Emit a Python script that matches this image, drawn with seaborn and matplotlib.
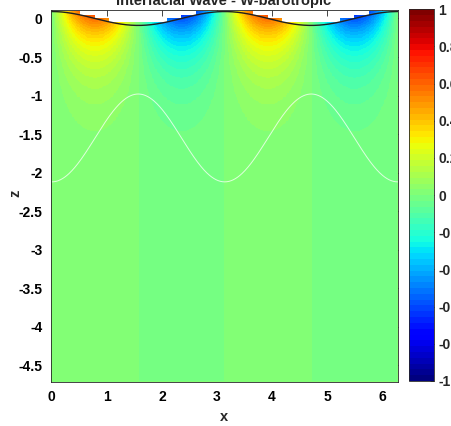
import numpy as np
import pandas as pd
import matplotlib
matplotlib.use("Agg")
import matplotlib.pyplot as plt
import seaborn as sns

# Wave parameters (two-layer interfacial wave, barotropic vertical velocity)
wavenumber = 2.0
depth = 3 * np.pi / 2
surface_amp = [0.09]
interface_mean = [-1.55]
interface_amp = [0.57]
w_amp = [0.58]

x_ticks = [0, 1, 2, 3, 4, 5, 6]
z_ticks = [0, -0.5, -1, -1.5, -2, -2.5, -3, -3.5, -4, -4.5]
z_labels = ["0", "-0.5", "-1", "-1.5", "-2", "-2.5", "-3", "-3.5", "-4", "-4.5"]
cbar_ticks = [1, 0.8, 0.6, 0.4, 0.2, 0, -0.2, -0.4, -0.6, -0.8, -1]
cbar_labels = ["1", "0.8", "0.6", "0.4", "0.2", "0", "-0.2", "-0.4", "-0.6", "-0.8", "-1"]

sns.set_style("white")
plt.rcParams["font.family"] = ["Liberation Sans", "DejaVu Sans"]
plt.rcParams["font.weight"] = "bold"

W, H = 451, 426
fig = plt.figure(figsize=(W / 100, H / 100), dpi=100)
ax = fig.add_axes([50.7 / W, 1 - 381.5 / H, 347 / W, 371.5 / H])

# model grid
x = np.linspace(0, 2 * np.pi, 481)
z = np.linspace(-depth, 0.12, 481)
X, Z = np.meshgrid(x, z)

eta = lambda xx: surface_amp[0] * np.cos(wavenumber * xx)
interface = lambda xx: interface_mean[0] - interface_amp[0] * np.cos(wavenumber * xx)

w = (w_amp[0] * np.sin(wavenumber * X)
     * np.sinh(wavenumber * (Z + depth)) / np.sinh(wavenumber * depth))

# blank the field above the free surface on the coarse output cells
dxc = 2 * np.pi / 24
dzc = 0.045
xc = (np.floor(X / dxc) + 0.5) * dxc
zb = np.floor(Z / dzc) * dzc
w = np.ma.masked_where(zb >= eta(xc), w)

cmap = plt.get_cmap("jet", 64)
mesh = ax.pcolormesh(X, Z, w, cmap=cmap, vmin=-1, vmax=1, shading="auto")

lines = pd.DataFrame({"x": x, "surface": eta(x), "interface": interface(x)})
sns.lineplot(data=lines, x="x", y="surface", ax=ax, color="#202020", lw=1.0)
sns.lineplot(data=lines, x="x", y="interface", ax=ax, color="white", lw=0.7, alpha=0.75)

ax.set_xlim(-0.02, 2 * np.pi)
ax.set_ylim(-4.71, 0.11)
ax.set_xticks(x_ticks)
ax.set_yticks(z_ticks)
ax.set_yticklabels(z_labels)
ax.tick_params(direction="in", length=4, width=0.6, top=True, right=True,
               labelsize=10, colors="#262626", pad=6)
for lab in ax.get_xticklabels() + ax.get_yticklabels():
    lab.set_fontweight("bold")
    lab.set_color("black")
for s in ax.spines.values():
    s.set_color("#262626")
    s.set_linewidth(0.6)
ax.set_xlabel("x", fontsize=10.5, fontweight="bold", va="center")
ax.set_ylabel("z", fontsize=10.5, fontweight="bold", va="center")
ax.xaxis.set_label_coords(0.5, (381.5 - 417) / 371.5)
ax.yaxis.set_label_coords((15 - 50.7) / 347, 0.5 + (371.5 / 2 - (193 - 10)) / 371.5)

fig.text(224 / W, 1 - 5 / H, "Interfacial Wave - W-barotropic", ha="center",
         va="baseline", fontsize=10.5, fontweight="bold")

cax = fig.add_axes([409 / W, 1 - 381 / H, 25 / W, 371.7 / H])
cb = fig.colorbar(mesh, cax=cax)
cb.set_ticks(cbar_ticks)
cb.set_ticklabels(cbar_labels)
cax.tick_params(direction="in", length=3, width=0.6, labelsize=10, pad=3)
for lab in cax.get_yticklabels():
    lab.set_fontweight("bold")
cb.outline.set_edgecolor("#262626")
cb.outline.set_linewidth(0.6)

fig.savefig("out.png", dpi=100)
